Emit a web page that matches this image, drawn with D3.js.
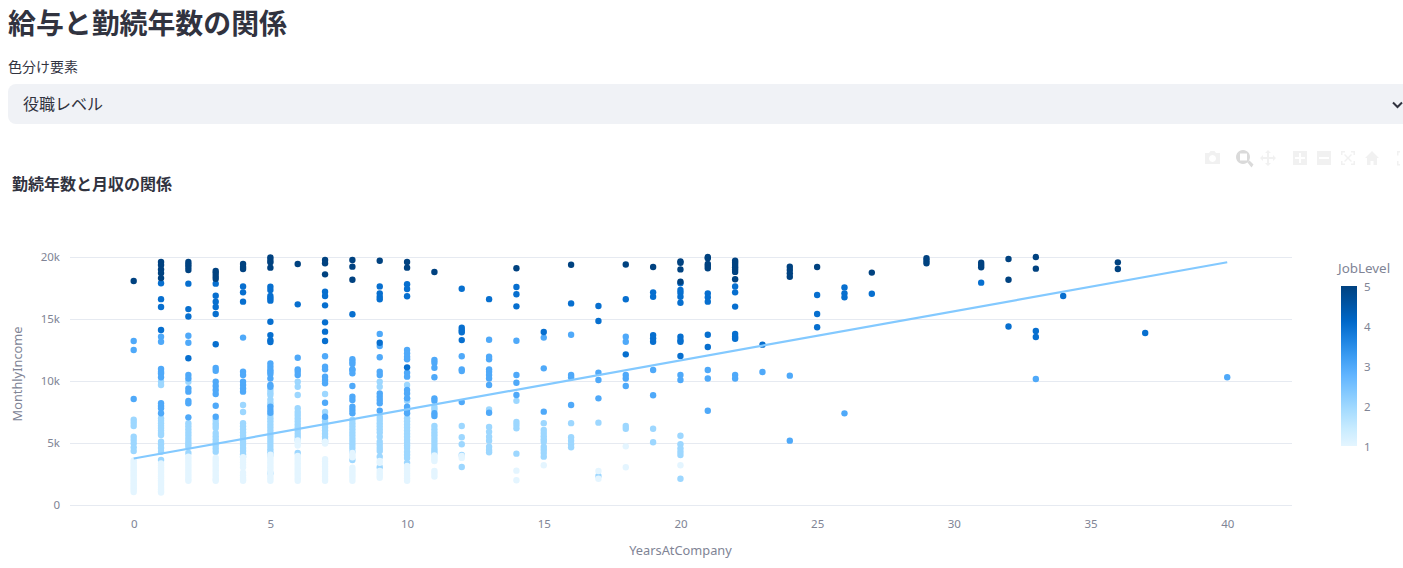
<!DOCTYPE html>
<html lang="ja"><head><meta charset="utf-8">
<script src="https://cdn.jsdelivr.net/npm/d3@7"></script>
<style>
html,body{margin:0;padding:0;background:#fff;overflow:hidden}
svg{display:block}
text{font-family:"Noto Sans","Noto Sans CJK JP",sans-serif}
.cjk{font-family:"Noto Sans CJK JP",sans-serif}
</style></head><body><svg id="c" width="1403" height="568"></svg>
<script>
const pageTitle="給与と勤続年数の関係", selectLabel="色分け要素", selectValue="役職レベル", chartTitle="勤続年数と月収の関係";
const xLabel="YearsAtCompany", yLabel="MonthlyIncome", legendTitle="JobLevel";
const xTicks=[0,5,10,15,20,25,30,35,40];
const yTicks=[0,5,10,15,20];
const legendTicks=[1,2,3,4,5];
const trendX=[0,40], trendY=[3.75,19.58];
const colorStops=["#e4f5ff","#c7ebff","#a6dcff","#83c9ff","#60b4ff","#3d9df3","#1c83e1","#0068c9","#0054a3","#004280"];
// [years at company, [monthly income in thousands...]]
const level1=[
[0,[3.6,3.45,3.3,3.15,3,2.85,2.7,2.55,2.4,2.25,2.1,1.95,1.8,1.65,1.5,1.35,1.2,1.05]],
[1,[3.35,3.2,3.05,2.9,2.75,2.6,2.45,2.3,2.15,2,1.85,1.7,1.55,1.4,1.25,1.1,1]],
[2,[3.9,3.7,3.5,3.3,3.1,2.9,2.7,2.5,2.3,2.1,1.95]],
[3,[3.8,3.6,3.4,3.2,3,2.8,2.6,2.4,2.2,2.05,1.95]],
[4,[3.85,3.65,3.45,3.25,3.05,2.6,2.4,2.2,2.05,1.95]],
[5,[4.05,3.85,3.65,3.45,3.25,3.05,2.85,2.6,2.35,2.15,1.95]],
[6,[5.2,5,4.8,3.95,3.75,3.55,3.35,3.15,2.95,2.75,2.55,2.35,2.15,1.95]],
[7,[5.1,4.95,3.7,3.5,3.3,3.1,2.9,2.7,2.5,2.3,2.1,1.95]],
[8,[4.2,4,3.85,3,2.8,2.6,2.4,2.2,1.95]],
[9,[3.55,3.4,2.75,2.55,2.35,2.2]],
[10,[3.15,2.95,2.75,2.55,2.35,2.15,1.95]],
[11,[4,3.85,3.7,3.55,2.75,2.55,2.3]],
[12,[3.8,3.95]],
[14,[2.77,2]],
[15,[3.2]],
[17,[2.74,2.12]],
[18,[4.73,3.04]],
[20,[3.2]]];
const level2=[
[0,[6.88,6.64,6.37,5.5,5.24,4.97,4.65,4.35]],
[1,[9.94,9.68,7,6.8,6.6,6.4,6.2,6,5.8,5.65,5.1,4.9,4.6,4.3,3.63]],
[2,[9.94,6.6,6.35,6.1,5.85,5.6,5.35,5.1,4.9,4.7,4.2]],
[3,[6.85,6.6,6.4,6.2,5.8,5.55,5.3,5.05,4.8,4.55,4.3]],
[4,[8.06,7.5,6.6,6.35,6.1,5.85,5.6,5.35,5.1,4.85,4.6,4.35,4.1,3.9]],
[5,[9.3,9.05,8.87,8.5,8.25,8.06,7.26,7,6.75,6.5,6.25,6,5.75,5.5,5.25,5,4.75,4.5,4.25,4.03,2.56]],
[6,[9.94,9.54,8.87,7.8,7.5,7.26,7,6.75,6.5,6.25,6,5.75,5.5,5.24,4.2]],
[7,[8.95,7.5,7,6.75,6.5,6.25,6,5.75,5.5,5.25,5.1]],
[8,[6.85,6.6,6.35,6.1,5.85,5.6,5.35,5.1,4.85,4.6,4.3,3.63]],
[9,[9.94,9.54,7.1,6.85,6.6,6.35,6.1,5.85,5.5,5.1,4.85,4.6,4.35,3.9,3.05]],
[10,[9.68,8.6,8.4,7,6.75,6.5,6.25,6,5.75,5.5,5.25,5,4.8,4.6,4.3,4.05,3.8,3.4]],
[11,[7.9,7.7,6.37,6.1,5.85,5.6,5.35,5.1,4.85,4.6,4.4,4.2]],
[12,[6.37,5.46,4.9,4.03,3.06]],
[13,[7.7,6.3,5.9,5.5,5.19,4.7,4.43,4.25]],
[14,[8.4,6.7,6.45,6.18,4.14]],
[15,[6.6,6.05,5.8,5.55,5.3,5.1,4.7,4.45,4.2,3.9]],
[16,[6.6,5.46,5.19,4.9,4.65]],
[17,[6.64,2.34]],
[18,[6.37,6.15]],
[19,[6.15,5.06]],
[20,[5.59,4.9,4.57,4.3,4.03,2.12]]];
const level3=[
[0,[13.23,12.5,8.55]],
[1,[13.57,13.17,10.97,10.75,10.6,10.3,8.2,7.98,7.8,7.4]],
[2,[13.65,13.09,10.48,10.2,9.4,9.14,8.4,8.2,7.07]],
[3,[11.05,10.83,9.94,9.6,9.27,8.95,8,7.12]],
[4,[13.5,10.75,10.48,9.94,9.68,9.4,9.14]],
[5,[11.42,11.15,10.9,10.75,10.56,10.2,9.68,9.54,7.93,7.66,7.44]],
[6,[11.88,10.94,10.75,10.48]],
[7,[11.99,11.15,10.94,10.35,10.08,9.81,8.25,7.12]],
[8,[11.75,11.56,11.37,10.94,10.89,10.62,9.6,8.73,8.47,7.93,7.66,7.4]],
[9,[13.8,12.82,11.91,10.75,10.48,9,8.73,8.47,8.2,7.6]],
[10,[12.5,12.23,11.96,11.75,10.67,10.35,9.27,9,8.6,7.93,7.66,7.4]],
[11,[11.69,11.48,11.07,10.3,8.6,8.4,7.4,7.18]],
[12,[11.99,10.94,10.8,8.3]],
[13,[13.33,11.96,11.75,10.94,10.75,10.48,10.2,9.68,7.44]],
[14,[13.25,10.48,9.86,8.87]],
[15,[13.5,11.02,7.53]],
[16,[13.73,10.48,10.3,8.06]],
[17,[10.67,10.08,8.6]],
[18,[13.57,13.17,10.48,10.2,9.6]],
[19,[10.89,8.85]],
[20,[10.48,10.08]],
[21,[10.89,10.2,7.6]],
[22,[10.48,10.2]],
[23,[10.73]],
[24,[10.43,5.19]],
[26,[7.39]],
[33,[10.16]],
[40,[10.3]]];
const level4=[
[1,[17.88,16.6,15.97,14.11]],
[2,[17.85,15.8,15.2,11.83]],
[3,[17.85,16.88,16.4,15.97,15.4,12.96]],
[4,[17.63,17.15,16.4]],
[5,[17.6,17.34,16.85,16.67,16.48,14.78,13.7,13.3,13.15]],
[6,[16.18]],
[7,[17.2,16.85,16.1,14.73,13.98,13.23]],
[8,[15.38]],
[9,[17.63,17.07,16.8,16.59,13.09]],
[10,[17.8,17.42,16.83,11.1]],
[12,[17.44,14.3,14.1,13.93,13.3]],
[13,[16.6]],
[14,[17.58,16.99,16.02]],
[15,[13.95]],
[16,[16.26]],
[17,[16.05,14.84]],
[18,[16.59,12.15]],
[19,[17.15,16.8,13.7,13.44,13.17]],
[20,[17.88,17.34,17.12,16.8,16.31,13.57,13.3,13.17,12.02]],
[21,[17.07,16.75,16.4,13.73,12.74]],
[22,[17.63,17.15,16,13.79,13.57,13.41]],
[23,[12.93]],
[25,[16.94,15.4,14.33]],
[26,[17.55,17.07,16.75]],
[27,[17.04]],
[31,[17.93]],
[32,[14.4]],
[33,[14.03,13.55]],
[34,[16.85]],
[37,[13.87]]];
const level5=[
[0,[18.06]],
[1,[19.6,19.35,19,18.7,18.3]],
[2,[19.6,19.4,19.2,18.95]],
[3,[18.87,18.7,18.47,18.25]],
[4,[19.43,19.2,19.03]],
[5,[19.97,19.76,19.57,19.14]],
[6,[19.43]],
[7,[19.76,19.5,18.6]],
[8,[19.76,19.22,18.17]],
[9,[19.7]],
[10,[19.6,19.14]],
[11,[18.79]],
[14,[19.09]],
[16,[19.38]],
[18,[19.4]],
[19,[19.19]],
[20,[19.65,19.54,19,18]],
[21,[20,19.9,19.43,19.27,19.09]],
[22,[19.7,19.54,19.35,19.17,19,18.8,18.2]],
[24,[19.22,18.95,18.68,18.41]],
[25,[19.19]],
[27,[18.74]],
[29,[19.9,19.7,19.49]],
[31,[19.54,19.35,19.17]],
[32,[19.84,18.17]],
[33,[20,19.06]],
[36,[19.57,19.03]]];

const svg=d3.select("#c");
const ink="#31333f", muted="#808495", grid="#e6eaf1";
const x=d3.scaleLinear().domain([-2.33,42.37]).range([70,1292]);
const y=d3.scaleLinear().domain([0,20]).range([505,257]);
const color=d3.scaleLinear().domain(colorStops.map((_,i)=>1+4*i/(colorStops.length-1))).range(colorStops);

// page header
svg.append("text").attr("class","cjk").attr("x",8).attr("y",33.5).attr("font-size",27.9).attr("font-weight",700).attr("fill",ink).text(pageTitle);
svg.append("text").attr("class","cjk").attr("x",8).attr("y",72).attr("font-size",14).attr("fill",ink).text(selectLabel);
svg.append("rect").attr("x",8).attr("y",84).attr("width",1420).attr("height",40).attr("rx",8).attr("fill","#f0f2f6");
svg.append("text").attr("class","cjk").attr("x",23).attr("y",109.5).attr("font-size",16).attr("fill",ink).text(selectValue);
svg.append("path").attr("d","M1393 102.5l4.5 4.5 4.5-4.5").attr("fill","none").attr("stroke",ink).attr("stroke-width",2);
svg.append("text").attr("class","cjk").attr("x",12).attr("y",189.5).attr("font-size",16).attr("font-weight",700).attr("fill",ink).text(chartTitle);

// mode bar
const mb=svg.append("g").attr("fill","#f1f1f1");
mb.append("path").attr("d","M1205 153h4l1.5-2h4l1.5 2h4v11h-15zM1212.5 155a3.5 3.5 0 1 0 .01 0z").attr("fill-rule","evenodd");
mb.append("path").attr("d","M1243 150a7 7 0 1 1-.01 0zM1240 153.5v7h7v-7zM1247.5 162.5l2-2 4 4-2 3z").attr("fill","#dadada").attr("fill-rule","evenodd");
mb.append("path").attr("d","M1268 150l3 3h-2v4h4v-2l3 3-3 3v-2h-4v4h2l-3 3-3-3h2v-4h-4v2l-3-3 3-3v2h4v-4h-2z");
mb.append("path").attr("d","M1293 151h14v14h-14zM1299 153v4h-4v2h4v4h2v-4h4v-2h-4v-4z").attr("fill-rule","evenodd");
mb.append("path").attr("d","M1317 151h14v14h-14zM1319 157v2h10v-2z").attr("fill-rule","evenodd");
mb.append("path").attr("d","M1341 151h4v1.5h-2.5V155H1341zM1351 151h4v4h-1.5v-2.5H1351zM1341 161h1.5v2.5h2.5v1.5h-4zM1353.5 161h1.5v4h-4v-1.5h2.5zM1345 154l3 3 3-3 1 1-3 3 3 3-1 1-3-3-3 3-1-1 3-3-3-3z");
mb.append("path").attr("d","M1372 151l7 7h-2v7h-3.5v-4h-3v4H1367v-7h-2z");
mb.append("path").attr("d","M1397 151h3v1.5h-1.5v3H1397zM1397 161h1.5v3h1.5v1.5h-3z");

// gridlines and axes
const tickFont='"Noto Sans",sans-serif';
const yAxis=d3.axisLeft(y).tickValues(yTicks).tickSize(0).tickPadding(10).tickFormat(d=>d===0?"0":d+"k");
const gy=svg.append("g").attr("transform","translate(70,0)").call(yAxis);
gy.select(".domain").remove();
gy.selectAll("text").attr("font-size",11.5).attr("fill",muted).style("font-family",tickFont);
svg.append("g").selectAll("line").data(yTicks).join("line")
  .attr("x1",70).attr("x2",1292).attr("y1",d=>y(d)+.5).attr("y2",d=>y(d)+.5).attr("stroke",grid);
const xAxis=d3.axisBottom(x).tickValues(xTicks).tickSize(0).tickPadding(15).tickFormat(d3.format("d"));
const gx=svg.append("g").attr("transform","translate(0,505)").call(xAxis);
gx.select(".domain").remove();
gx.selectAll("text").attr("font-size",11.5).attr("fill",muted).style("font-family",tickFont);
svg.append("text").attr("x",680.5).attr("y",555).attr("text-anchor","middle").attr("font-size",12.8).attr("fill",muted).text(xLabel);
svg.append("text").attr("transform","translate(22,374) rotate(-90)").attr("text-anchor","middle").attr("font-size",12.8).attr("fill",muted).text(yLabel);

// points
const flat=(rows,level)=>rows.flatMap(([yr,vals])=>vals.map(v=>({yr,v,level})));
const points=[...flat(level2,2),...flat(level1,1),...flat(level3,3),...flat(level4,4),...flat(level5,5)];
svg.append("g").selectAll("circle").data(points).join("circle")
  .attr("cx",d=>x(d.yr)).attr("cy",d=>y(d.v)).attr("r",3.2).attr("fill",d=>color(d.level));

// trend line
svg.append("path").datum(trendX.map((d,i)=>[d,trendY[i]]))
  .attr("d",d3.line().x(d=>x(d[0])).y(d=>y(d[1]))).attr("fill","none").attr("stroke","#83c9ff").attr("stroke-width",2.2);

// colour bar
const defs=svg.append("defs");
const lg=defs.append("linearGradient").attr("id","cb").attr("x1",0).attr("x2",0).attr("y1",1).attr("y2",0);
lg.selectAll("stop").data(colorStops).join("stop").attr("offset",(_,i)=>i/(colorStops.length-1)).attr("stop-color",d=>d);
const cy=d3.scaleLinear().domain([1,5]).range([446,286]);
svg.append("rect").attr("x",1341).attr("y",286).attr("width",16).attr("height",160).attr("fill","url(#cb)");
const cAxis=d3.axisRight(cy).tickValues(legendTicks).tickSize(0).tickPadding(7).tickFormat(d3.format("d"));
const gc=svg.append("g").attr("transform","translate(1357,1)").call(cAxis);
gc.select(".domain").remove();
gc.selectAll("text").attr("font-size",11.5).attr("fill",muted).style("font-family",tickFont);
svg.append("text").attr("x",1338).attr("y",272.5).attr("font-size",13.4).attr("fill",muted).text(legendTitle);
</script></body></html>
